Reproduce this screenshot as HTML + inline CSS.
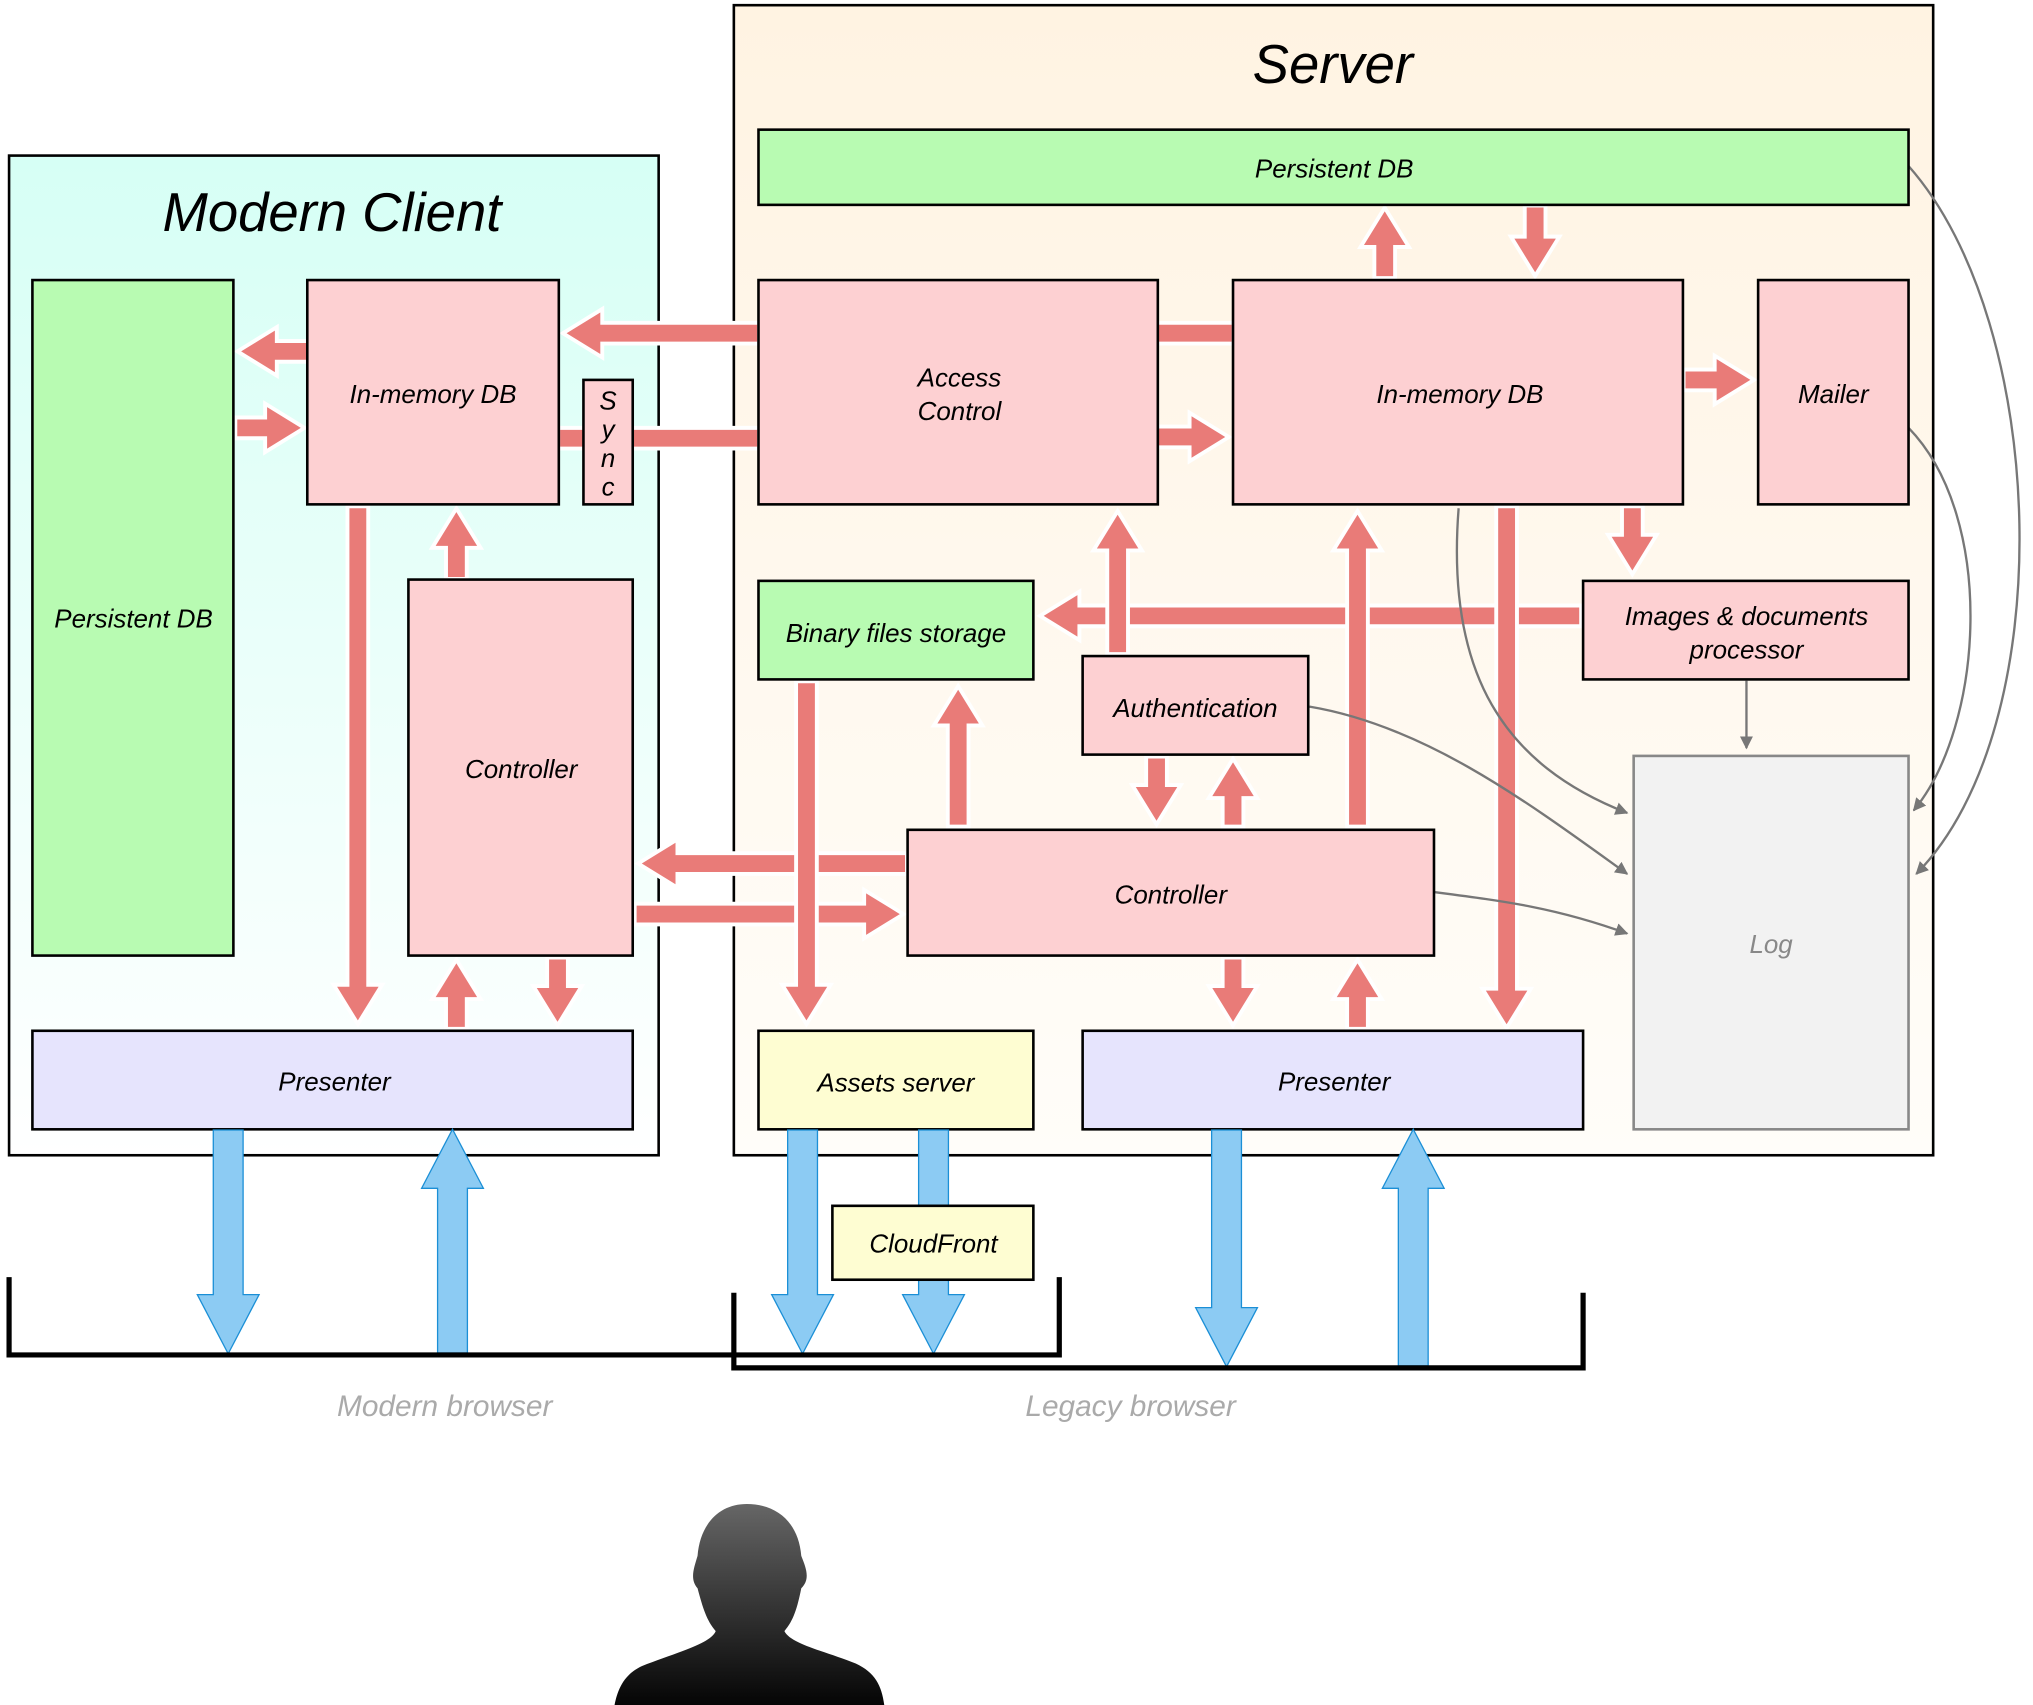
<!DOCTYPE html>
<html><head><meta charset="utf-8"><style>
html,body{margin:0;padding:0;background:#fff;}
svg{display:block}
text{font-family:"Liberation Sans",sans-serif;font-style:italic;}
</style></head><body>
<svg id="s" width="2033" height="1705" viewBox="0 0 1568 1315" preserveAspectRatio="none" xmlns="http://www.w3.org/2000/svg">
<defs>
<linearGradient id="gc" x1="0" y1="0" x2="0" y2="1"><stop offset="0" stop-color="#d6fff5"/><stop offset="1" stop-color="#ffffff"/></linearGradient>
<linearGradient id="gs" x1="0" y1="0" x2="0" y2="1"><stop offset="0" stop-color="#fff3e2"/><stop offset="1" stop-color="#fffdf9"/></linearGradient>
<linearGradient id="gp" x1="0" y1="0" x2="0" y2="1"><stop offset="0" stop-color="#666"/><stop offset="1" stop-color="#050505"/></linearGradient>
<marker id="ah" markerWidth="10" markerHeight="10" refX="9" refY="5" orient="auto" markerUnits="userSpaceOnUse"><path d="M0,0 L10,5 L0,10 z" fill="#777"/></marker>
</defs>
<rect x="7" y="120" width="501" height="771" fill="url(#gc)" stroke="#000" stroke-width="2"/>
<rect x="566" y="4" width="925" height="887" fill="url(#gs)" stroke="#000" stroke-width="2"/>
<text x="256" y="178" font-size="42" text-anchor="middle">Modern Client</text>
<text x="1028" y="64" font-size="42" text-anchor="middle">Server</text>
<g id="arrows"></g>
<g fill="none" stroke="#777" stroke-width="1.8" marker-end="url(#ah)">
<path d="M1472,128 C1580,250 1590,560 1478,674"/>
<path d="M1472,330 C1540,400 1530,560 1476,625"/>
<path d="M1347,525 L1347,577"/>
<path d="M1010,545 C1100,560 1180,620 1255,674"/>
<path d="M1125,392 C1115,520 1160,590 1255,627"/>
<path d="M1106,688 C1160,695 1200,700 1255,720"/>
</g>
<g stroke="#000" stroke-width="2">
<rect x="25" y="216" width="155" height="521" fill="#b8fbb2"/>
<rect x="237" y="216" width="194" height="173" fill="#fdd0d2"/>
<rect x="450" y="293" width="38" height="96" fill="#fdd0d2"/>
<rect x="315" y="447" width="173" height="290" fill="#fdd0d2"/>
<rect x="25" y="795" width="463" height="76" fill="#e6e4fd"/>
<rect x="585" y="100" width="887" height="58" fill="#b8fbb2"/>
<rect x="585" y="216" width="308" height="173" fill="#fdd0d2"/>
<rect x="951" y="216" width="347" height="173" fill="#fdd0d2"/>
<rect x="1356" y="216" width="116" height="173" fill="#fdd0d2"/>
<rect x="585" y="448" width="212" height="76" fill="#b8fbb2"/>
<rect x="835" y="506" width="174" height="76" fill="#fdd0d2"/>
<rect x="1221" y="448" width="251" height="76" fill="#fdd0d2"/>
<rect x="1260" y="583" width="212" height="288" fill="#f2f2f2" stroke="#888"/>
<rect x="700" y="640" width="406" height="97" fill="#fdd0d2"/>
<rect x="585" y="795" width="212" height="76" fill="#fefdd2"/>
<rect x="835" y="795" width="386" height="76" fill="#e6e4fd"/>
</g>
<g id="blue"></g>
<rect x="642" y="930" width="155" height="57" fill="#fefdd2" stroke="#000" stroke-width="2"/>
<g font-size="20" text-anchor="middle">
<text x="103" y="484">Persistent DB</text>
<text x="334" y="311">In-memory DB</text>
<text x="469" y="316">S</text><text x="469" y="338">y</text><text x="469" y="360">n</text><text x="469" y="382">c</text>
<text x="402" y="600">Controller</text>
<text x="258" y="841">Presenter</text>
<text x="1029" y="137">Persistent DB</text>
<text x="740" y="298">Access</text><text x="740" y="324">Control</text>
<text x="1126" y="311">In-memory DB</text>
<text x="1414" y="311">Mailer</text>
<text x="691" y="495">Binary files storage</text>
<text x="922" y="553">Authentication</text>
<text x="1347" y="482">Images &amp; documents</text><text x="1347" y="508">processor</text>
<text x="1366" y="735" fill="#888">Log</text>
<text x="903" y="697">Controller</text>
<text x="691" y="842">Assets server</text>
<text x="1029" y="841">Presenter</text>
<text x="720" y="966">CloudFront</text>
<text x="343" y="1092" font-size="23" fill="#aaa">Modern browser</text>
<text x="872" y="1092" font-size="23" fill="#aaa">Legacy browser</text>
</g>
<path d="M7,985 V1045 H817 V985" fill="none" stroke="#000" stroke-width="4"/>
<path d="M566,997 V1055 H1221 V997" fill="none" stroke="#000" stroke-width="4"/>
<path d="M576,1160 C555,1160 540,1175 538,1200 C535,1210 532,1218 538,1225 C542,1240 545,1250 552,1258 C548,1268 520,1275 495,1285 C480,1292 476,1305 474,1315 L682,1315 C680,1300 675,1290 660,1283 C635,1273 610,1268 605,1258 C612,1250 615,1240 618,1225 C625,1218 622,1210 618,1200 C616,1175 600,1160 576,1160 Z" fill="url(#gp)"/>
</svg>
<script>
var NS="http://www.w3.org/2000/svg";
function arr(g,x1,y1,x2,y2,sw,hw,hl,fill,stroke,sws,head){
 var dx=x2-x1,dy=y2-y1,L=Math.hypot(dx,dy),ux=dx/L,uy=dy/L,px=-uy,py=ux;
 var pts;
 if(head===false){pts=[[x1+px*sw/2,y1+py*sw/2],[x2+px*sw/2,y2+py*sw/2],[x2-px*sw/2,y2-py*sw/2],[x1-px*sw/2,y1-py*sw/2]];}
 else{var bx=x2-ux*hl,by=y2-uy*hl;
 pts=[[x1+px*sw/2,y1+py*sw/2],[bx+px*sw/2,by+py*sw/2],[bx+px*hw/2,by+py*hw/2],[x2,y2],[bx-px*hw/2,by-py*hw/2],[bx-px*sw/2,by-py*sw/2],[x1-px*sw/2,y1-py*sw/2]];}
 var p=document.createElementNS(NS,"polygon");
 p.setAttribute("points",pts.map(function(a){return a.join(",")}).join(" "));
 p.setAttribute("fill",fill);p.setAttribute("stroke",stroke);p.setAttribute("stroke-width",sws);
 p.setAttribute("stroke-linejoin","miter");p.setAttribute("paint-order","stroke");
 g.appendChild(p);
}
var g=document.getElementById("arrows");
function r(x1,y1,x2,y2,h){arr(g,x1,y1,x2,y2,13,32,26,"#e97b78","#fff",6,h);}
r(236,271,186,271);r(183,330,232,330);
r(432,338,584,338,false);
r(584,257,437,257);
r(276,392,276,787);r(352,445,352,395);r(352,792,352,743);r(430,740,430,788);
r(698,666,495,666);r(491,705,694,705);
r(893,257,950,257,false);r(893,337,945,337);
r(1068,213,1068,163);r(1184,160,1184,210);
r(1300,293,1350,293);r(1259,392,1259,440);
r(1218,475,805,475);
r(1162,392,1162,790);r(1047,636,1047,397);r(862,503,862,397);
r(622,527,622,787);r(739,636,739,532);
r(892,585,892,633);r(951,636,951,588);r(951,740,951,788);r(1047,792,1047,743);
var b=document.getElementById("blue");
function bl(x1,y1,x2,y2){arr(b,x1,y1,x2,y2,22,46,44,"#8ccbf3","#1b8fd6",2);}
bl(176,872,176,1043);bl(349,1043,349,872);bl(619,872,619,1043);bl(720,872,720,1043);
bl(946,872,946,1053);bl(1090,1053,1090,872);
</script>
</body></html>
